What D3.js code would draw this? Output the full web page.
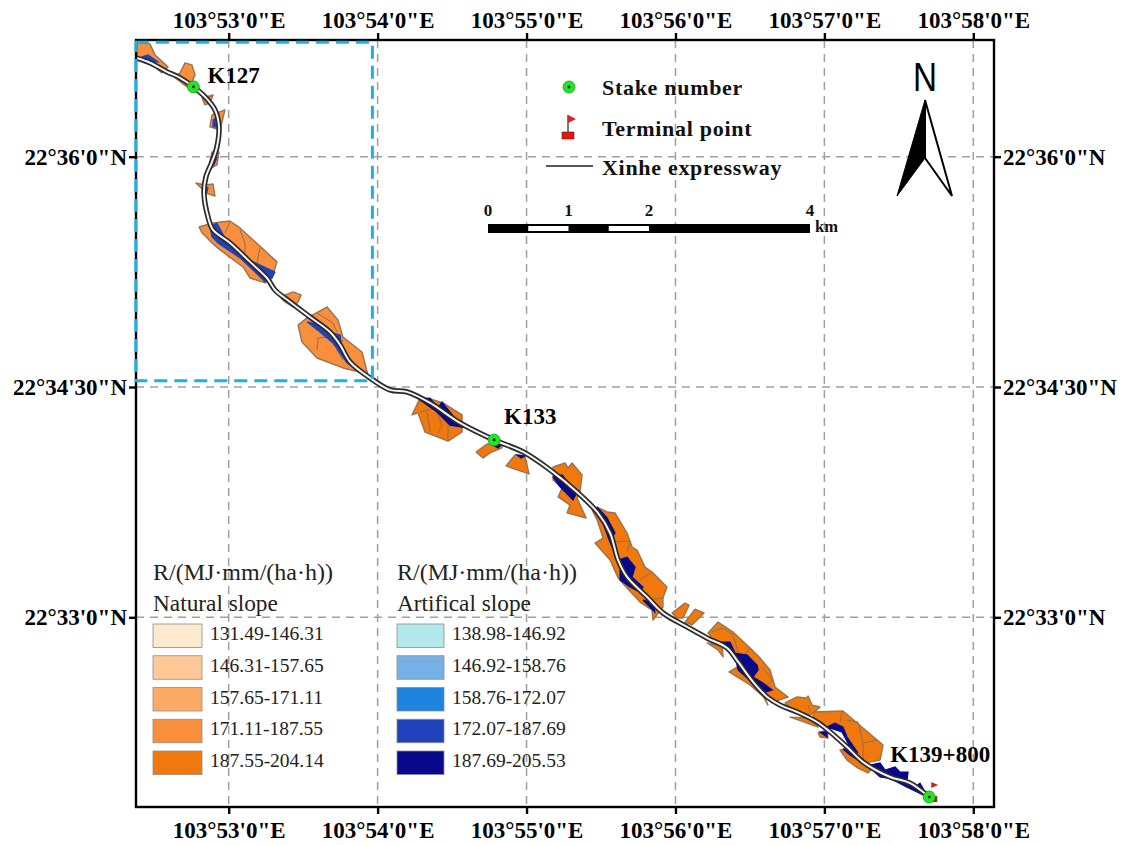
<!DOCTYPE html>
<html>
<head>
<meta charset="utf-8">
<script src="https://cdn.jsdelivr.net/npm/d3@7"></script>
<style>
html, body { margin: 0; padding: 0; background: #fff; }
text { font-family: "Liberation Serif", serif; }
</style>
</head>
<body>
<svg id="map" width="1124" height="845"></svg>
<script>
// all positions are [longitude minutes past 103deg, latitude minutes past 22deg]
const lonTicks = [53, 54, 55, 56, 57, 58];
const latTicks = [36, 34.5, 33];

const road = [[52.377,36.644],[52.471,36.612],[52.585,36.553],[52.673,36.514],[52.763,36.455],[52.841,36.390],[52.908,36.305],[52.935,36.194],[52.921,36.064],[52.888,35.966],[52.847,35.868],[52.834,35.764],[52.861,35.608],[52.895,35.523],[53.009,35.438],[53.143,35.315],[53.257,35.210],[53.311,35.132],[53.412,35.054],[53.546,34.956],[53.680,34.858],[53.748,34.774],[53.815,34.663],[53.949,34.559],[54.083,34.481],[54.197,34.468],[54.352,34.396],[54.553,34.266],[54.782,34.155],[54.977,34.077],[55.158,33.960],[55.339,33.816],[55.474,33.686],[55.561,33.549],[55.615,33.373],[55.676,33.262],[55.810,33.132],[55.917,33.028],[56.078,32.937],[56.213,32.865],[56.347,32.800],[56.421,32.709],[56.522,32.578],[56.616,32.481],[56.703,32.428],[56.817,32.383],[56.951,32.318],[57.039,32.253],[57.153,32.155],[57.260,32.057],[57.442,31.960],[57.576,31.920],[57.704,31.829]];

const naturalPatches = [
  [[52.384,36.742],[52.471,36.735],[52.505,36.663],[52.592,36.585],[52.552,36.546],[52.471,36.612],[52.384,36.644]],
  [[52.673,36.546],[52.707,36.611],[52.753,36.598],[52.774,36.533],[52.753,36.487],[52.720,36.455],[52.639,36.514]],
  [[52.821,36.383],[52.895,36.402],[52.874,36.350],[52.841,36.337]],
  [[52.888,36.272],[52.975,36.305],[52.942,36.174],[52.874,36.194]],
  [[52.888,36.031],[52.935,36.031],[52.921,35.946],[52.861,35.914]],
  [[52.780,35.829],[52.841,35.816],[52.895,35.822],[52.908,35.744],[52.841,35.764],[52.814,35.797]],
  [[52.801,35.542],[52.895,35.568],[53.009,35.581],[53.076,35.536],[53.324,35.315],[53.291,35.210],[53.244,35.178],[53.143,35.210],[53.096,35.282],[52.942,35.393],[52.888,35.438],[52.821,35.504]],
  [[53.345,35.087],[53.432,35.119],[53.486,35.100],[53.466,35.054],[53.432,35.021],[53.378,35.054]],
  [[53.466,34.904],[53.526,34.950],[53.660,35.021],[53.734,34.937],[53.767,34.826],[53.895,34.728],[53.935,34.578],[53.881,34.598],[53.767,34.624],[53.593,34.689],[53.492,34.793]],
  [[54.231,34.318],[54.285,34.428],[54.338,34.428],[54.439,34.396],[54.567,34.318],[54.567,34.207],[54.473,34.148],[54.318,34.207],[54.271,34.331]],
  [[54.661,34.077],[54.734,34.129],[54.822,34.122],[54.835,34.103],[54.755,34.071],[54.708,34.038]],
  [[54.862,33.986],[54.923,34.058],[54.990,34.044],[55.017,33.934],[54.936,33.960]],
  [[55.178,33.979],[55.259,34.005],[55.279,33.973],[55.306,34.005],[55.373,33.927],[55.359,33.816],[55.339,33.777],[55.400,33.647],[55.272,33.680],[55.292,33.731],[55.212,33.784],[55.239,33.843],[55.178,33.895]],
  [[55.440,33.699],[55.474,33.718],[55.541,33.686],[55.594,33.680],[55.675,33.549],[55.709,33.458],[55.742,33.438],[55.796,33.327],[55.843,33.295],[55.943,33.197],[55.916,33.125],[55.916,33.066],[55.849,32.982],[55.843,33.047],[55.762,33.099],[55.675,33.191],[55.615,33.256],[55.561,33.373],[55.460,33.484],[55.514,33.516],[55.474,33.634]],
  [[55.977,33.028],[56.064,33.092],[56.091,33.079],[56.051,32.995],[56.010,32.995]],
  [[56.064,32.969],[56.131,33.053],[56.192,33.028],[56.111,32.950]],
  [[56.219,32.898],[56.286,32.969],[56.387,32.904],[56.501,32.800],[56.568,32.735],[56.635,32.657],[56.669,32.546],[56.756,32.481],[56.655,32.448],[56.601,32.507],[56.521,32.559],[56.421,32.689],[56.347,32.807],[56.253,32.852]],
  [[56.212,32.833],[56.313,32.820],[56.320,32.742],[56.286,32.787]],
  [[56.360,32.644],[56.414,32.676],[56.548,32.559],[56.621,32.428],[56.601,32.474],[56.501,32.559]],
  [[56.736,32.442],[56.817,32.481],[56.877,32.474],[56.891,32.487],[56.918,32.428],[56.971,32.416],[56.925,32.376],[56.904,32.364],[56.770,32.409]],
  [[56.770,32.350],[56.904,32.344],[56.958,32.285],[56.884,32.311]],
  [[56.925,32.383],[57.125,32.390],[57.394,32.168],[57.374,32.070],[57.307,32.057],[57.260,32.057],[57.193,32.155],[57.125,32.246],[57.085,32.298],[57.018,32.285],[56.925,32.344]],
  [[56.958,32.246],[57.018,32.266],[57.024,32.214],[56.971,32.220]],
  [[57.105,32.135],[57.152,32.148],[57.260,32.051],[57.313,32.005],[57.293,31.986],[57.226,32.018],[57.152,32.070]]
];
const naturalClass = [3,3,3,3,3,3,3,3,3,4,4,4,4,4,4,4,4,4,4,4,4,4,4,4];

const artificialPatches = [
  [[52.418,36.650],[52.458,36.663],[52.525,36.618],[52.471,36.618]],
  [[52.895,36.240],[52.921,36.253],[52.928,36.194],[52.895,36.194]],
  [[52.901,35.979],[52.921,35.992],[52.901,35.946],[52.874,35.946]],
  [[52.841,35.803],[52.861,35.797],[52.854,35.771]],
  [[52.874,35.542],[52.921,35.568],[52.975,35.471],[53.096,35.347],[53.311,35.249],[53.291,35.210],[53.244,35.184],[53.177,35.249],[53.076,35.341],[52.928,35.438],[52.888,35.477]],
  [[53.526,34.924],[53.613,34.904],[53.700,34.852],[53.748,34.839],[53.761,34.741],[53.861,34.611],[53.794,34.657],[53.700,34.787],[53.613,34.858]],
  [[54.285,34.415],[54.352,34.428],[54.406,34.363],[54.432,34.402],[54.486,34.337],[54.567,34.239],[54.486,34.252],[54.399,34.337]],
  [[54.775,34.122],[54.835,34.129],[54.808,34.103]],
  [[54.936,34.058],[54.990,34.051],[54.963,34.038]],
  [[55.178,33.914],[55.239,33.927],[55.292,33.862],[55.339,33.816],[55.312,33.764],[55.225,33.849]],
  [[55.474,33.718],[55.541,33.647],[55.594,33.549],[55.561,33.503],[55.615,33.373],[55.675,33.392],[55.729,33.327],[55.709,33.262],[55.782,33.197],[55.762,33.164],[55.695,33.197],[55.628,33.243],[55.628,33.327],[55.547,33.523]],
  [[55.782,33.112],[55.849,33.092],[55.862,33.034]],
  [[56.286,32.839],[56.367,32.839],[56.400,32.767],[56.481,32.754],[56.548,32.689],[56.555,32.657],[56.521,32.611],[56.588,32.572],[56.649,32.526],[56.601,32.513],[56.534,32.559],[56.421,32.657],[56.400,32.742],[56.333,32.807]],
  [[57.018,32.285],[57.071,32.311],[57.125,32.285],[57.152,32.220],[57.226,32.116],[57.172,32.155],[57.118,32.253]],
  [[56.971,32.253],[57.018,32.253],[57.018,32.220]],
  [[57.125,32.142],[57.219,32.103],[57.307,32.038],[57.374,32.051],[57.408,32.005],[57.475,32.025],[57.508,31.992],[57.562,31.992],[57.555,31.940],[57.609,31.894],[57.642,31.920],[57.676,31.862],[57.663,31.842],[57.622,31.862],[57.555,31.894],[57.488,31.927],[57.427,31.953],[57.374,31.960],[57.307,32.018],[57.226,32.070],[57.172,32.103]]
];
const artificialClass = [3,3,3,3,3,3,4,4,4,4,4,4,4,4,4,4];

const patchEdges = [
  [[53.009,35.575],[52.975,35.503]],
  [[53.076,35.523],[53.109,35.438],[53.109,35.347]],
  [[53.210,35.406],[53.190,35.308]],
  [[53.660,35.021],[53.593,34.982],[53.700,34.917],[53.727,34.858]],
  [[53.593,34.741],[53.600,34.820],[53.680,34.826]],
  [[53.767,34.676],[53.727,34.741],[53.767,34.806]],
  [[54.285,34.337],[54.386,34.363],[54.432,34.252],[54.406,34.200]],
  [[54.332,34.337],[54.352,34.207]],
  [[54.473,34.252],[54.473,34.155]],
  [[55.561,33.490],[55.695,33.496],[55.675,33.431]],
  [[55.762,33.243],[55.843,33.295]],
  [[55.782,33.112],[55.916,33.125]],
  [[56.246,32.904],[56.320,32.930],[56.387,32.885],[56.421,32.774]],
  [[56.501,32.800],[56.454,32.742]],
  [[56.581,32.676],[56.649,32.592],[56.601,32.546]],
  [[57.118,32.383],[57.105,32.318]],
  [[57.152,32.331],[57.226,32.318],[57.260,32.181],[57.354,32.201]],
  [[57.260,32.181],[57.260,32.070]],
  [[56.891,32.428],[56.904,32.383]]
];

const stakes = [[52.763,36.455],[54.782,34.155],[57.704,31.829]];
const stakeNames = ["K127", "K133", "K139+800"];
const studyArea = [52.377, 53.965, 36.745, 34.541];

const naturalLabels = ["131.49-146.31","146.31-157.65","157.65-171.11","171.11-187.55","187.55-204.14"];
const naturalColors = ["#fde9cf","#fdc997","#fcaa66","#f98f3d","#f0780c"];
const artificialLabels = ["138.98-146.92","146.92-158.76","158.76-172.07","172.07-187.69","187.69-205.53"];
const artificialColors = ["#b3e9ec","#75b1e6","#1f83e0","#1f42bb","#08088c"];
const scaleKm = [0, 1, 2, 4];
const scaleWhite = [[0.5, 1], [1.5, 2]];

const svg = d3.select("#map");
const frame = { left: 136, right: 994, top: 40, bottom: 807 };

const x = d3.scaleLinear().domain([53, 58]).range([228.7, 973.3]);
const y = d3.scaleLinear().domain([36, 33]).range([156.7, 617.3]);
const project = p => [x(p[0]), y(p[1])];
const km = d3.scaleLinear().domain([0, 4]).range([488, 810]);

// grid
const grid = svg.append("g").attr("fill", "none").attr("stroke", "#a0a0a0")
  .attr("stroke-width", 1.5).attr("stroke-dasharray", "8,6");
grid.selectAll("line.v").data(lonTicks).enter().append("line").attr("class", "v")
  .attr("x1", d => x(d)).attr("x2", d => x(d)).attr("y1", frame.top).attr("y2", frame.bottom);
grid.selectAll("line.h").data(latTicks).enter().append("line").attr("class", "h")
  .attr("y1", d => y(d)).attr("y2", d => y(d)).attr("x1", frame.left).attr("x2", frame.right);

// slope patches
const poly = d3.line().x(d => x(d[0])).y(d => y(d[1])).curve(d3.curveLinearClosed);
const open = d3.line().x(d => x(d[0])).y(d => y(d[1]));

svg.append("g").selectAll("path").data(naturalPatches).enter().append("path")
  .attr("d", poly)
  .attr("fill", (d, i) => naturalColors[naturalClass[i]])
  .attr("stroke", "#9a7350").attr("stroke-width", 1.4).attr("stroke-linejoin", "round");
svg.append("g").selectAll("path").data(patchEdges).enter().append("path")
  .attr("d", open).attr("fill", "none")
  .attr("stroke", "#8f6f55").attr("stroke-width", 1);
svg.append("g").selectAll("path").data(artificialPatches).enter().append("path")
  .attr("d", poly)
  .attr("fill", (d, i) => artificialColors[artificialClass[i]])
  .attr("stroke", (d, i) => artificialColors[artificialClass[i]]).attr("stroke-width", 1.2);

// expressway, black casing with white core
const roadLine = d3.line().x(d => x(d[0])).y(d => y(d[1])).curve(d3.curveCatmullRom.alpha(0.5));
svg.append("path").attr("d", roadLine(road)).attr("fill", "none")
  .attr("stroke", "#2a2a2a").attr("stroke-width", 5.4);
svg.append("path").attr("d", roadLine(road)).attr("fill", "none")
  .attr("stroke", "#f4f4f4").attr("stroke-width", 2);

// frame and axes
svg.append("rect")
  .attr("x", frame.left).attr("y", frame.top)
  .attr("width", frame.right - frame.left).attr("height", frame.bottom - frame.top)
  .attr("fill", "none").attr("stroke", "#000").attr("stroke-width", 2.4);

// study area box, sits over the frame on the left side
svg.append("rect")
  .attr("x", x(studyArea[0])).attr("y", y(studyArea[2]))
  .attr("width", x(studyArea[1]) - x(studyArea[0]))
  .attr("height", y(studyArea[3]) - y(studyArea[2]))
  .attr("fill", "none").attr("stroke", "#1cb0ea").attr("stroke-width", 3)
  .attr("stroke-dasharray", "13,7");

const lonFmt = d => `103°${d}'0"E`;
const latFmt = d => `22°${Math.floor(d)}'${d % 1 ? 30 : 0}"N`;
const axes = [
  [d3.axisTop(x).tickValues(lonTicks).tickFormat(lonFmt), 0, frame.top, 5],
  [d3.axisBottom(x).tickValues(lonTicks).tickFormat(lonFmt), 0, frame.bottom, 8],
  [d3.axisLeft(y).tickValues(latTicks).tickFormat(latFmt), frame.left, 0, 2],
  [d3.axisRight(y).tickValues(latTicks).tickFormat(latFmt), frame.right, 0, 2]
];
axes.forEach(a => {
  const g = svg.append("g").attr("transform", `translate(${a[1]},${a[2]})`)
    .call(a[0].tickSize(7).tickPadding(a[3]));
  g.select(".domain").remove();
  g.selectAll("line").attr("stroke", "#000").attr("stroke-width", 2.4);
  g.selectAll("text").attr("font-family", "Liberation Serif").attr("font-size", 23)
    .attr("font-weight", "bold").attr("fill", "#000");
});

// terminal flag at the end of the road
const flag = project(stakes[2]);
svg.append("path")
  .attr("d", `M${flag[0] + 2},${flag[1] - 15}l7,3l-7,3z`)
  .attr("fill", "#cf1f1f");
svg.append("rect").attr("x", flag[0] + 3).attr("y", flag[1] - 1).attr("width", 5).attr("height", 6)
  .attr("fill", "#a5231c");

// stake markers
const stakeG = svg.append("g").selectAll("g").data(stakes).enter().append("g")
  .attr("transform", d => `translate(${project(d)})`);
stakeG.append("circle").attr("r", 6).attr("fill", "#1fe81f").attr("stroke", "#119a2a").attr("stroke-width", 0.8);
stakeG.append("circle").attr("r", 1.4).attr("fill", "#000");
stakeG.append("text").text((d, i) => stakeNames[i])
  .attr("x", (d, i) => [14, 10, -39][i]).attr("y", (d, i) => [-4, -16, -35][i])
  .attr("font-size", 23).attr("font-weight", "bold").attr("fill", "#000");

// top legend
const topText = [["Stake number", 95], ["Terminal point", 136], ["Xinhe expressway", 175]];
svg.append("g").selectAll("text").data(topText).enter().append("text")
  .text(d => d[0]).attr("x", 602).attr("y", d => d[1])
  .attr("font-size", 22).attr("font-weight", "bold").attr("letter-spacing", 0.7).attr("fill", "#111");
svg.append("circle").attr("cx", 569).attr("cy", 87).attr("r", 6).attr("fill", "#1fe81f")
  .attr("stroke", "#119a2a").attr("stroke-width", 0.8);
svg.append("circle").attr("cx", 569).attr("cy", 87).attr("r", 1.4).attr("fill", "#000");
svg.append("line").attr("x1", 568).attr("x2", 568).attr("y1", 115).attr("y2", 132).attr("stroke", "#222").attr("stroke-width", 1.2);
svg.append("path").attr("d", "M568,115L576,119L568,123Z").attr("fill", "#e01f1f");
svg.append("rect").attr("x", 562).attr("y", 132).attr("width", 12).attr("height", 7)
  .attr("fill", "#ee1111").attr("stroke", "#333").attr("stroke-width", 0.6);
svg.append("line").attr("x1", 546).attr("x2", 593).attr("y1", 166).attr("y2", 166).attr("stroke", "#222").attr("stroke-width", 1.5);

// scale bar
svg.append("rect").attr("x", km(0)).attr("y", 224)
  .attr("width", km(4) - km(0)).attr("height", 9).attr("fill", "#000");
svg.append("g").selectAll("rect").data(scaleWhite).enter().append("rect")
  .attr("x", d => km(d[0])).attr("width", d => km(d[1]) - km(d[0]))
  .attr("y", 226).attr("height", 5).attr("fill", "#fff");
svg.append("g").selectAll("text").data(scaleKm).enter().append("text")
  .text(d => d).attr("x", d => km(d)).attr("y", 216).attr("text-anchor", "middle")
  .attr("font-size", 17).attr("font-weight", "bold").attr("fill", "#111");
svg.append("text").text("km").attr("x", 815).attr("y", 232)
  .attr("font-size", 16.5).attr("font-weight", "bold").attr("fill", "#111");

// north arrow
svg.append("text").text("N").attr("x", 913).attr("y", 91)
  .attr("textLength", 24).attr("lengthAdjust", "spacingAndGlyphs")
  .style("font-family", "Liberation Sans").attr("font-size", 40).attr("fill", "#000");
svg.append("path").attr("d", "M925,100L897,196L925,158Z").attr("fill", "#000").attr("stroke", "#000");
svg.append("path").attr("d", "M925,100L952,196L925,158Z").attr("fill", "#fff").attr("stroke", "#000").attr("stroke-width", 2);

// class legends
function classLegend(left, title, labels, colors) {
  const g = svg.append("g").attr("fill", "#222");
  g.append("text").text("R/(MJ·mm/(ha·h))").attr("x", left).attr("y", 580).attr("font-size", 24);
  g.append("text").text(title).attr("x", left).attr("y", 611).attr("font-size", 23.3);
  const rowY = d3.scaleLinear().domain([0, 4]).range([624, 751]);
  const w = left < 300 ? 49 : 47;
  g.selectAll("rect").data(colors).enter().append("rect")
    .attr("x", left).attr("y", (d, i) => rowY(i)).attr("width", w).attr("height", 23.5)
    .attr("fill", d => d).attr("stroke", "#8d8d8d").attr("stroke-width", 0.8);
  g.selectAll("text.lab").data(labels).enter().append("text").attr("class", "lab")
    .text(d => d).attr("x", left + w + 8).attr("y", (d, i) => rowY(i) + 16)
    .attr("font-size", 19.5);
}
classLegend(153, "Natural slope", naturalLabels, naturalColors);
classLegend(397, "Artifical slope", artificialLabels, artificialColors);
</script>
</body>
</html>
